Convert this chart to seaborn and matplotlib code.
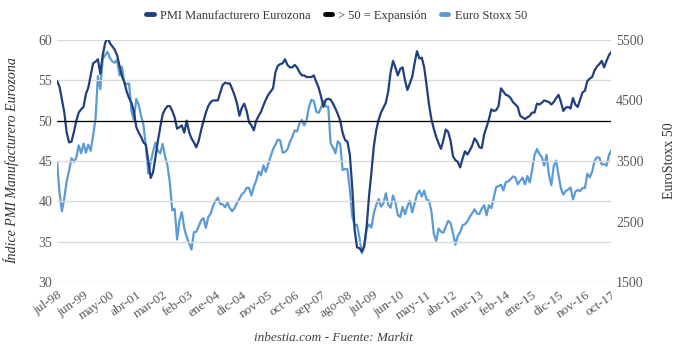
import numpy as np
import pandas as pd
import matplotlib
matplotlib.use('Agg')
import matplotlib.pyplot as plt
from matplotlib.lines import Line2D
import seaborn as sns

# PMI manufacturero eurozona, mensual jul-98 .. oct-17
pmi = [54.9, 54.2, 52.6, 51.0, 48.5, 47.3,
       47.4, 48.6, 50.0, 51.0, 51.4, 51.7, 53.3, 54.1, 55.6, 57.1, 57.3, 57.6,
       55.8, 58.1, 59.6, 60.3, 59.6, 59.2, 58.8, 58.1, 56.8, 55.5, 54.8, 53.6,
       52.8, 52.2, 51.1, 49.2, 48.5, 48.0, 47.3, 47.0, 45.0, 42.9, 43.6, 45.5,
       47.5, 49.2, 50.8, 51.4, 51.8, 51.8, 51.2, 50.4, 49.0, 49.2, 49.4, 48.5,
       50.0, 48.6, 47.8, 47.3, 46.7, 47.5, 48.8, 49.9, 51.0, 51.8, 52.3, 52.5,
       52.5, 52.5, 53.5, 54.4, 54.7, 54.6, 54.6, 53.9, 53.1, 52.1, 50.6, 51.6,
       52.1, 51.2, 49.8, 49.4, 48.8, 50.0, 50.6, 51.1, 51.9, 52.6, 53.2, 53.6,
       54.0, 56.0, 56.8, 57.0, 57.1, 57.6, 56.9, 56.6, 56.6, 56.9, 56.6, 56.0,
       55.6, 55.6, 55.4, 55.4, 55.4, 55.6, 54.8, 54.1, 53.0, 51.7, 52.6, 52.7,
       52.6, 52.1, 51.5, 50.8, 50.0, 48.5, 47.6, 47.4, 45.8, 41.8, 36.5, 34.3,
       34.2, 33.8, 34.5, 36.8, 40.6, 43.6, 46.8, 48.8, 50.1, 51.0, 51.6, 52.2,
       53.6, 56.0, 57.4, 56.6, 55.6, 56.4, 56.6, 55.0, 53.8, 54.6, 55.4, 57.1,
       58.6, 57.7, 57.8, 56.6, 54.4, 52.0, 50.2, 49.0, 48.0, 47.2, 46.5, 47.6,
       48.9, 48.6, 47.5, 45.6, 45.1, 44.9, 44.2, 45.3, 46.2, 45.8, 46.3, 46.9,
       47.8, 47.4, 46.7, 46.6, 48.3, 49.2, 50.2, 51.4, 51.2, 51.3, 51.8, 54.0,
       53.6, 53.2, 53.1, 52.8, 52.3, 52.0, 51.7, 50.6, 50.4, 50.2, 50.4, 50.6,
       51.0, 51.0, 52.1, 52.0, 52.2, 52.5, 52.4, 52.3, 52.0, 52.3, 52.8, 53.2,
       52.3, 51.2, 51.6, 51.7, 51.5, 52.8, 52.0, 51.7, 52.6, 53.5, 53.7, 54.9,
       55.2, 55.4, 56.2, 56.7, 57.0, 57.4, 56.6, 57.4, 58.1, 58.5]

# Euro Stoxx 50, mensual jul-98 .. oct-17
stoxx = [3480, 2978, 2670, 2887, 3172, 3342,
         3547, 3484, 3559, 3758, 3628, 3788, 3638, 3769, 3669, 3922, 4194, 4904,
         4685, 5182, 5249, 5303, 5200, 5145, 5122, 5175, 4915, 5057, 4790, 4772,
         4780, 4319, 4185, 4525, 4426, 4243, 4092, 3744, 3297, 3478, 3658, 3806,
         3670, 3625, 3784, 3574, 3425, 3133, 2685, 2710, 2204, 2519, 2657, 2386,
         2248, 2140, 2036, 2324, 2331, 2419, 2519, 2556, 2395, 2575, 2631, 2761,
         2839, 2893, 2787, 2788, 2737, 2811, 2720, 2671, 2726, 2811, 2876, 2951,
         2984, 3058, 3056, 2930, 3076, 3182, 3326, 3263, 3429, 3321, 3448, 3579,
         3692, 3775, 3854, 3839, 3637, 3649, 3692, 3809, 3899, 4004, 3987, 4120,
         4179, 4088, 4182, 4392, 4512, 4489, 4316, 4294, 4382, 4489, 4398, 4400,
         3792, 3724, 3628, 3826, 3778, 3352, 3367, 3365, 3038, 2592, 2430, 2448,
         2237, 1976, 2071, 2384, 2452, 2401, 2639, 2775, 2872, 2746, 2798, 2966,
         2776, 2728, 2931, 2817, 2610, 2574, 2742, 2623, 2748, 2845, 2651, 2793,
         2954, 3013, 2911, 3011, 2861, 2848, 2670, 2302, 2180, 2385, 2330, 2317,
         2416, 2512, 2477, 2306, 2118, 2264, 2325, 2440, 2454, 2503, 2575, 2636,
         2703, 2633, 2624, 2712, 2770, 2603, 2768, 2721, 2893, 3068, 3086, 3109,
         3013, 3149, 3162, 3198, 3245, 3229, 3116, 3173, 3226, 3114, 3251, 3146,
         3351, 3599, 3697, 3616, 3570, 3424, 3601, 3270, 3101, 3418, 3506, 3268,
         3045, 2946, 3005, 3028, 3063, 2865, 2991, 3023, 3002, 3055, 3052, 3291,
         3231, 3320, 3501, 3560, 3555, 3442, 3449, 3422, 3595, 3674]

tick_labels = ['jul-98', 'jun-99', 'may-00', 'abr-01', 'mar-02', 'feb-03',
               'ene-04', 'dic-04', 'nov-05', 'oct-06', 'sep-07', 'ago-08',
               'jul-09', 'jun-10', 'may-11', 'abr-12', 'mar-13', 'feb-14',
               'ene-15', 'dic-15', 'nov-16', 'oct-17']

df = pd.DataFrame({'mes': np.arange(len(pmi)), 'PMI': pmi, 'Stoxx': stoxx})

c_pmi = '#203F7F'
c_stoxx = '#5B9BD5'
c_txt = '#595959'

sns.set_style('white')
plt.rcParams['font.family'] = ['Liberation Serif', 'DejaVu Serif']

fig, ax = plt.subplots(figsize=(6.8, 3.5), dpi=100)
ax2 = ax.twinx()

sns.lineplot(data=df, x='mes', y='Stoxx', ax=ax2, color=c_stoxx, linewidth=1.6)
sns.lineplot(data=df, x='mes', y='PMI', ax=ax, color=c_pmi, linewidth=1.6)
ax.axhline(50, color='black', linewidth=0.9, zorder=3)

# el eje de PMI por encima del Stoxx
ax.set_zorder(ax2.get_zorder() + 1)
ax.patch.set_visible(False)

ax.set_ylim(30, 60)
ax.set_yticks(range(30, 61, 5))
ax2.set_ylim(1500, 5500)
ax2.set_yticks(range(1500, 5501, 1000))
ax.set_xlim(0, len(pmi) - 1)
ax.set_xticks(range(0, len(pmi), 11))
ax.set_xticklabels(tick_labels, rotation=35, ha='right', rotation_mode='anchor')

ax.yaxis.grid(True, color='#d9d9d9', linewidth=1)
ax.xaxis.grid(False)
for a in (ax, ax2):
    for s in a.spines.values():
        s.set_visible(False)
    a.tick_params(colors=c_txt, labelsize=10, length=0)
ax.tick_params(axis='x', labelsize=9.5, pad=5)

ax.set_xlabel('')
ax.set_ylabel('Índice PMI Manufacturero Eurozona', style='italic', fontsize=10,
              color='#333333', labelpad=14)
ax2.set_ylabel('EuroStoxx 50', fontsize=10, color='#333333', labelpad=14)

handles = [Line2D([], [], color=c_pmi, lw=3.5),
           Line2D([], [], color='black', lw=3.5),
           Line2D([], [], color=c_stoxx, lw=3.5)]
fig.legend(handles, ['PMI Manufacturero Eurozona', '> 50 = Expansión', 'Euro Stoxx 50'],
           loc='center', bbox_to_anchor=(0.495, 0.955), ncol=3, frameon=False,
           fontsize=9, handlelength=0.6, columnspacing=1.1, handletextpad=0.5,
           labelcolor='#333333')

fig.text(0.49, 0.025, 'inbestia.com - Fuente: Markit', style='italic',
         fontsize=9.5, color='#404040', ha='center')

fig.subplots_adjust(left=0.084, right=0.899, top=0.886, bottom=0.194)
fig.savefig('out.png', dpi=100, facecolor='white')
